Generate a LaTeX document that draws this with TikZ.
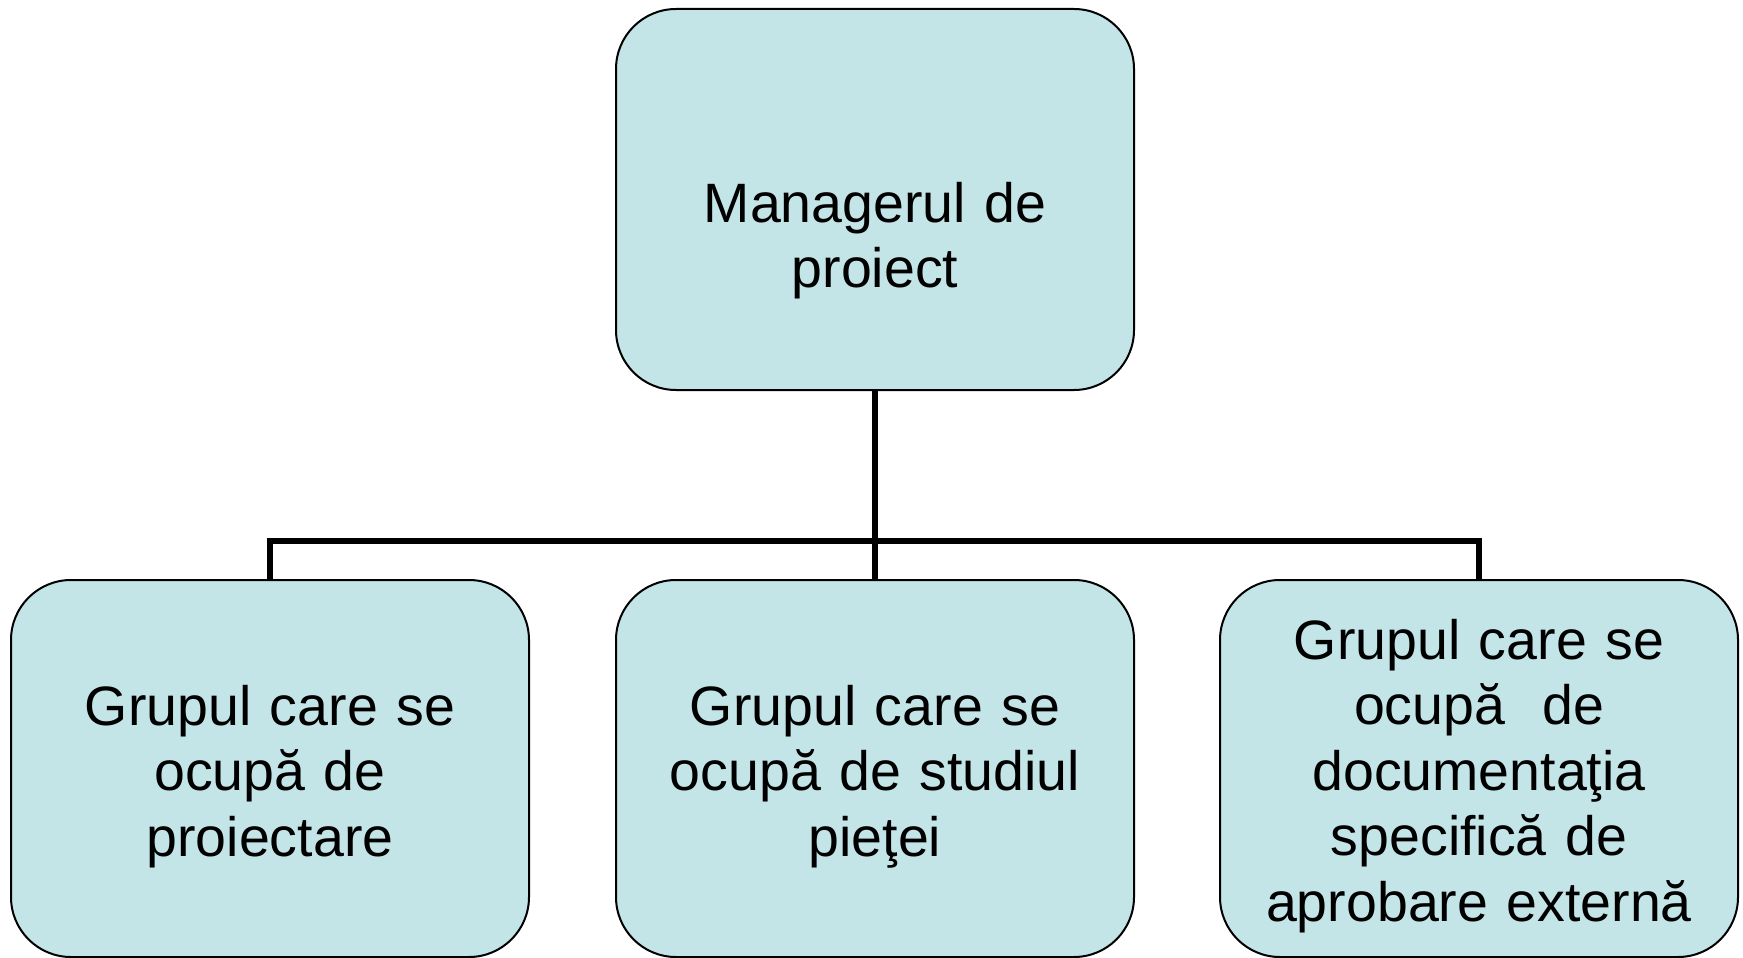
\documentclass[tikz,border=0pt]{standalone}
\usepackage{fontspec}
\setmainfont{Liberation Sans}
\definecolor{boxfill}{RGB}{196,229,232}
\begin{document}
\begin{tikzpicture}[x=1pt,y=-1pt,
  orgbox/.style={draw=black,line width=2pt,fill=boxfill,rounded corners=60pt,
    minimum width=518pt,inner sep=0pt,outer sep=0pt},
  boxtext/.style={anchor=base,text width=510pt,align=center,inner sep=0pt,
    font=\fontsize{55.5}{65.5}\selectfont},
  link/.style={draw=black,line width=6pt}]
\useasboundingbox (0,0) rectangle (1743,958);

% boxes
\node[orgbox,minimum height=381pt] (mgr) at (875,199.5) {};
\node[orgbox,minimum height=377pt] (proj) at (270,768.5) {};
\node[orgbox,minimum height=377pt] (piata) at (875,768.5) {};
\node[orgbox,minimum height=377pt] (doc) at (1479,768.5) {};

% connectors
\coordinate (bus) at (875,541);
\path[link] (mgr.south) -- (piata.north);
\path[link] (proj.north) |- (bus) -| (doc.north);

% labels
\node[boxtext] (mgrtext) at (875,222) {Managerul de\\proiect};
\node[boxtext] (projtext) at (270,725) {Grupul care se\\ocupă de\\proiectare};
\node[boxtext] (piatatext) at (875,725) {Grupul care se\\ocupă de studiul\\pieţei};
\node[boxtext] (doctext) at (1479,659) {Grupul care se\\ocupă\ \ de\\documentaţia\\specifică de\\aprobare externă};
\end{tikzpicture}
\end{document}
